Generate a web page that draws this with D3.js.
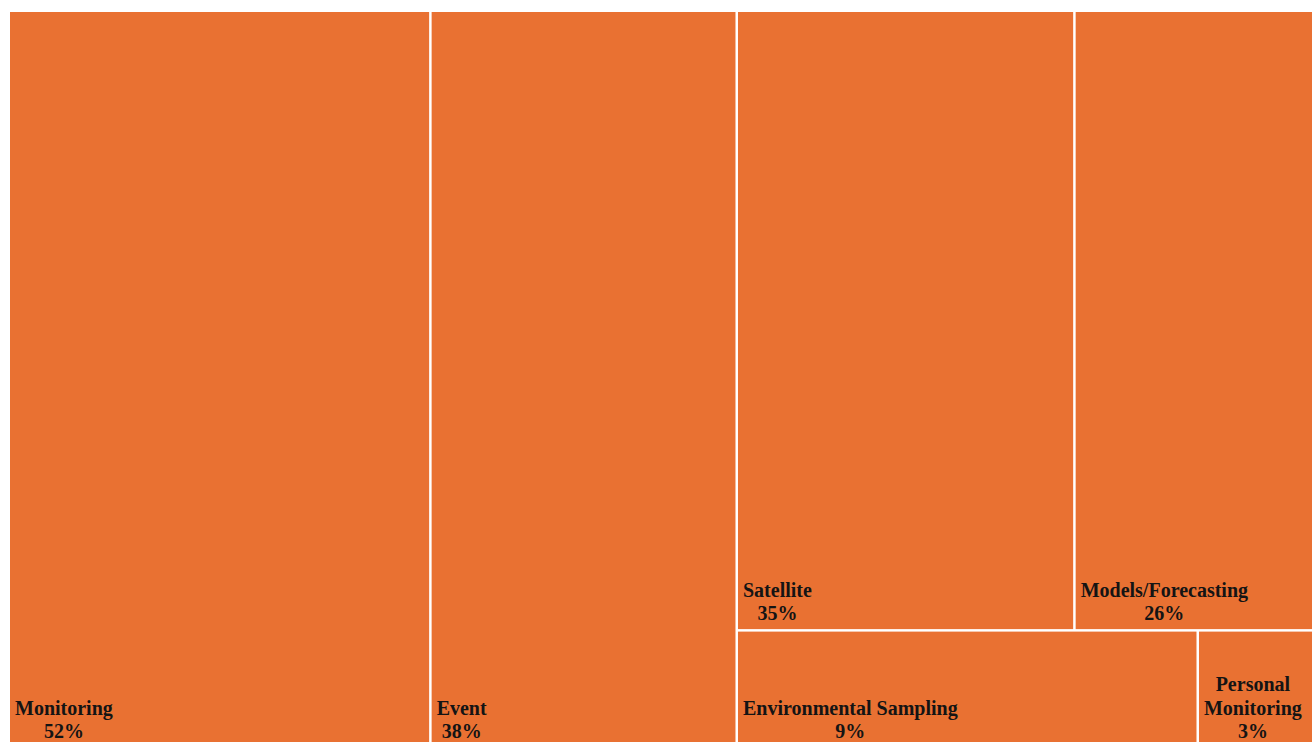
<!DOCTYPE html>
<html>
<head>
<meta charset="utf-8">
<script src="https://cdn.jsdelivr.net/npm/d3@7"></script>
<style>
  html, body { margin: 0; padding: 0; background: #ffffff; overflow: hidden; }
  svg { display: block; overflow: hidden; }
</style>
</head>
<body>
<svg id="chart" width="1312" height="742"></svg>
<script>
// ---- data ----
const categories = ["Monitoring", "Event", "Satellite", "Models/Forecasting", "Environmental Sampling", "Personal Monitoring"];
const shares = [52.3, 38, 35, 26, 9.4, 2.6];          // percent of respondents
const blockIndex = [0, 1, 2, 2, 2, 2];                // column block in the treemap
const rowIndex = [0, 0, 0, 0, 1, 1];                  // row within a block

// ---- build hierarchy from the flat arrays ----
const blocks = [];
categories.forEach((name, i) => {
  const b = blockIndex[i], r = rowIndex[i];
  if (!blocks[b]) blocks[b] = { name: "block" + b, rows: [] };
  if (!blocks[b].rows[r]) blocks[b].rows[r] = { name: "row" + b + "_" + r, children: [] };
  blocks[b].rows[r].children.push({ name, value: shares[i] });
});
const rootData = {
  name: "root",
  children: blocks.map(b => {
    if (b.rows.length === 1 && b.rows[0].children.length === 1) return b.rows[0].children[0];
    return { name: b.name, children: b.rows };
  })
};

const root = d3.hierarchy(rootData).sum(d => d.value || 0);

const X0 = 10, Y0 = 12, W = 1314, H = 739;
d3.treemap()
  .tile(d3.treemapSliceDice)
  .size([W, H])
  .paddingInner(2.5)
  .round(false)(root);

const svg = d3.select("#chart");
const g = svg.append("g").attr("transform", `translate(${X0},${Y0})`);

const leaves = root.leaves();
const cell = g.selectAll("g.cell").data(leaves).join("g").attr("class", "cell");

cell.append("rect")
  .attr("x", d => d.x0)
  .attr("y", d => d.y0)
  .attr("width", d => d.x1 - d.x0)
  .attr("height", d => d.y1 - d.y0)
  .attr("fill", "#E97132");

const fontSize = 20, lineH = 23.5, pad = 5, bottomGap = 9;

cell.each(function(d) {
  const sel = d3.select(this);
  const avail = (d.x1 - d.x0) - 2 * pad;
  const text = sel.append("text")
    .attr("font-family", "'Liberation Serif', 'Times New Roman', serif")
    .attr("font-weight", "bold")
    .attr("font-size", fontSize)
    .attr("fill", "#141414");
  // greedy wrap of the name
  const words = d.data.name.split(" ");
  const lines = [];
  let cur = "";
  const probe = text.append("tspan");
  words.forEach(w => {
    const test = cur ? cur + " " + w : w;
    probe.text(test);
    if (probe.node().getComputedTextLength() > avail && cur) {
      lines.push(cur);
      cur = w;
    } else {
      cur = test;
    }
  });
  if (cur) lines.push(cur);
  probe.remove();
  lines.push(Math.round(d.data.value) + "%");

  const tspans = lines.map(l => text.append("tspan").attr("text-anchor", "middle").text(l));
  const widths = tspans.map(t => t.node().getComputedTextLength());
  const blockW = d3.max(widths);
  const cx = d.x0 + pad + blockW / 2;
  const lastBase = Math.min(d.y1 - bottomGap, 742 - Y0 - 4);
  tspans.forEach((t, i) => {
    t.attr("x", cx).attr("y", lastBase - (lines.length - 1 - i) * lineH);
  });
});
</script>
</body>
</html>
